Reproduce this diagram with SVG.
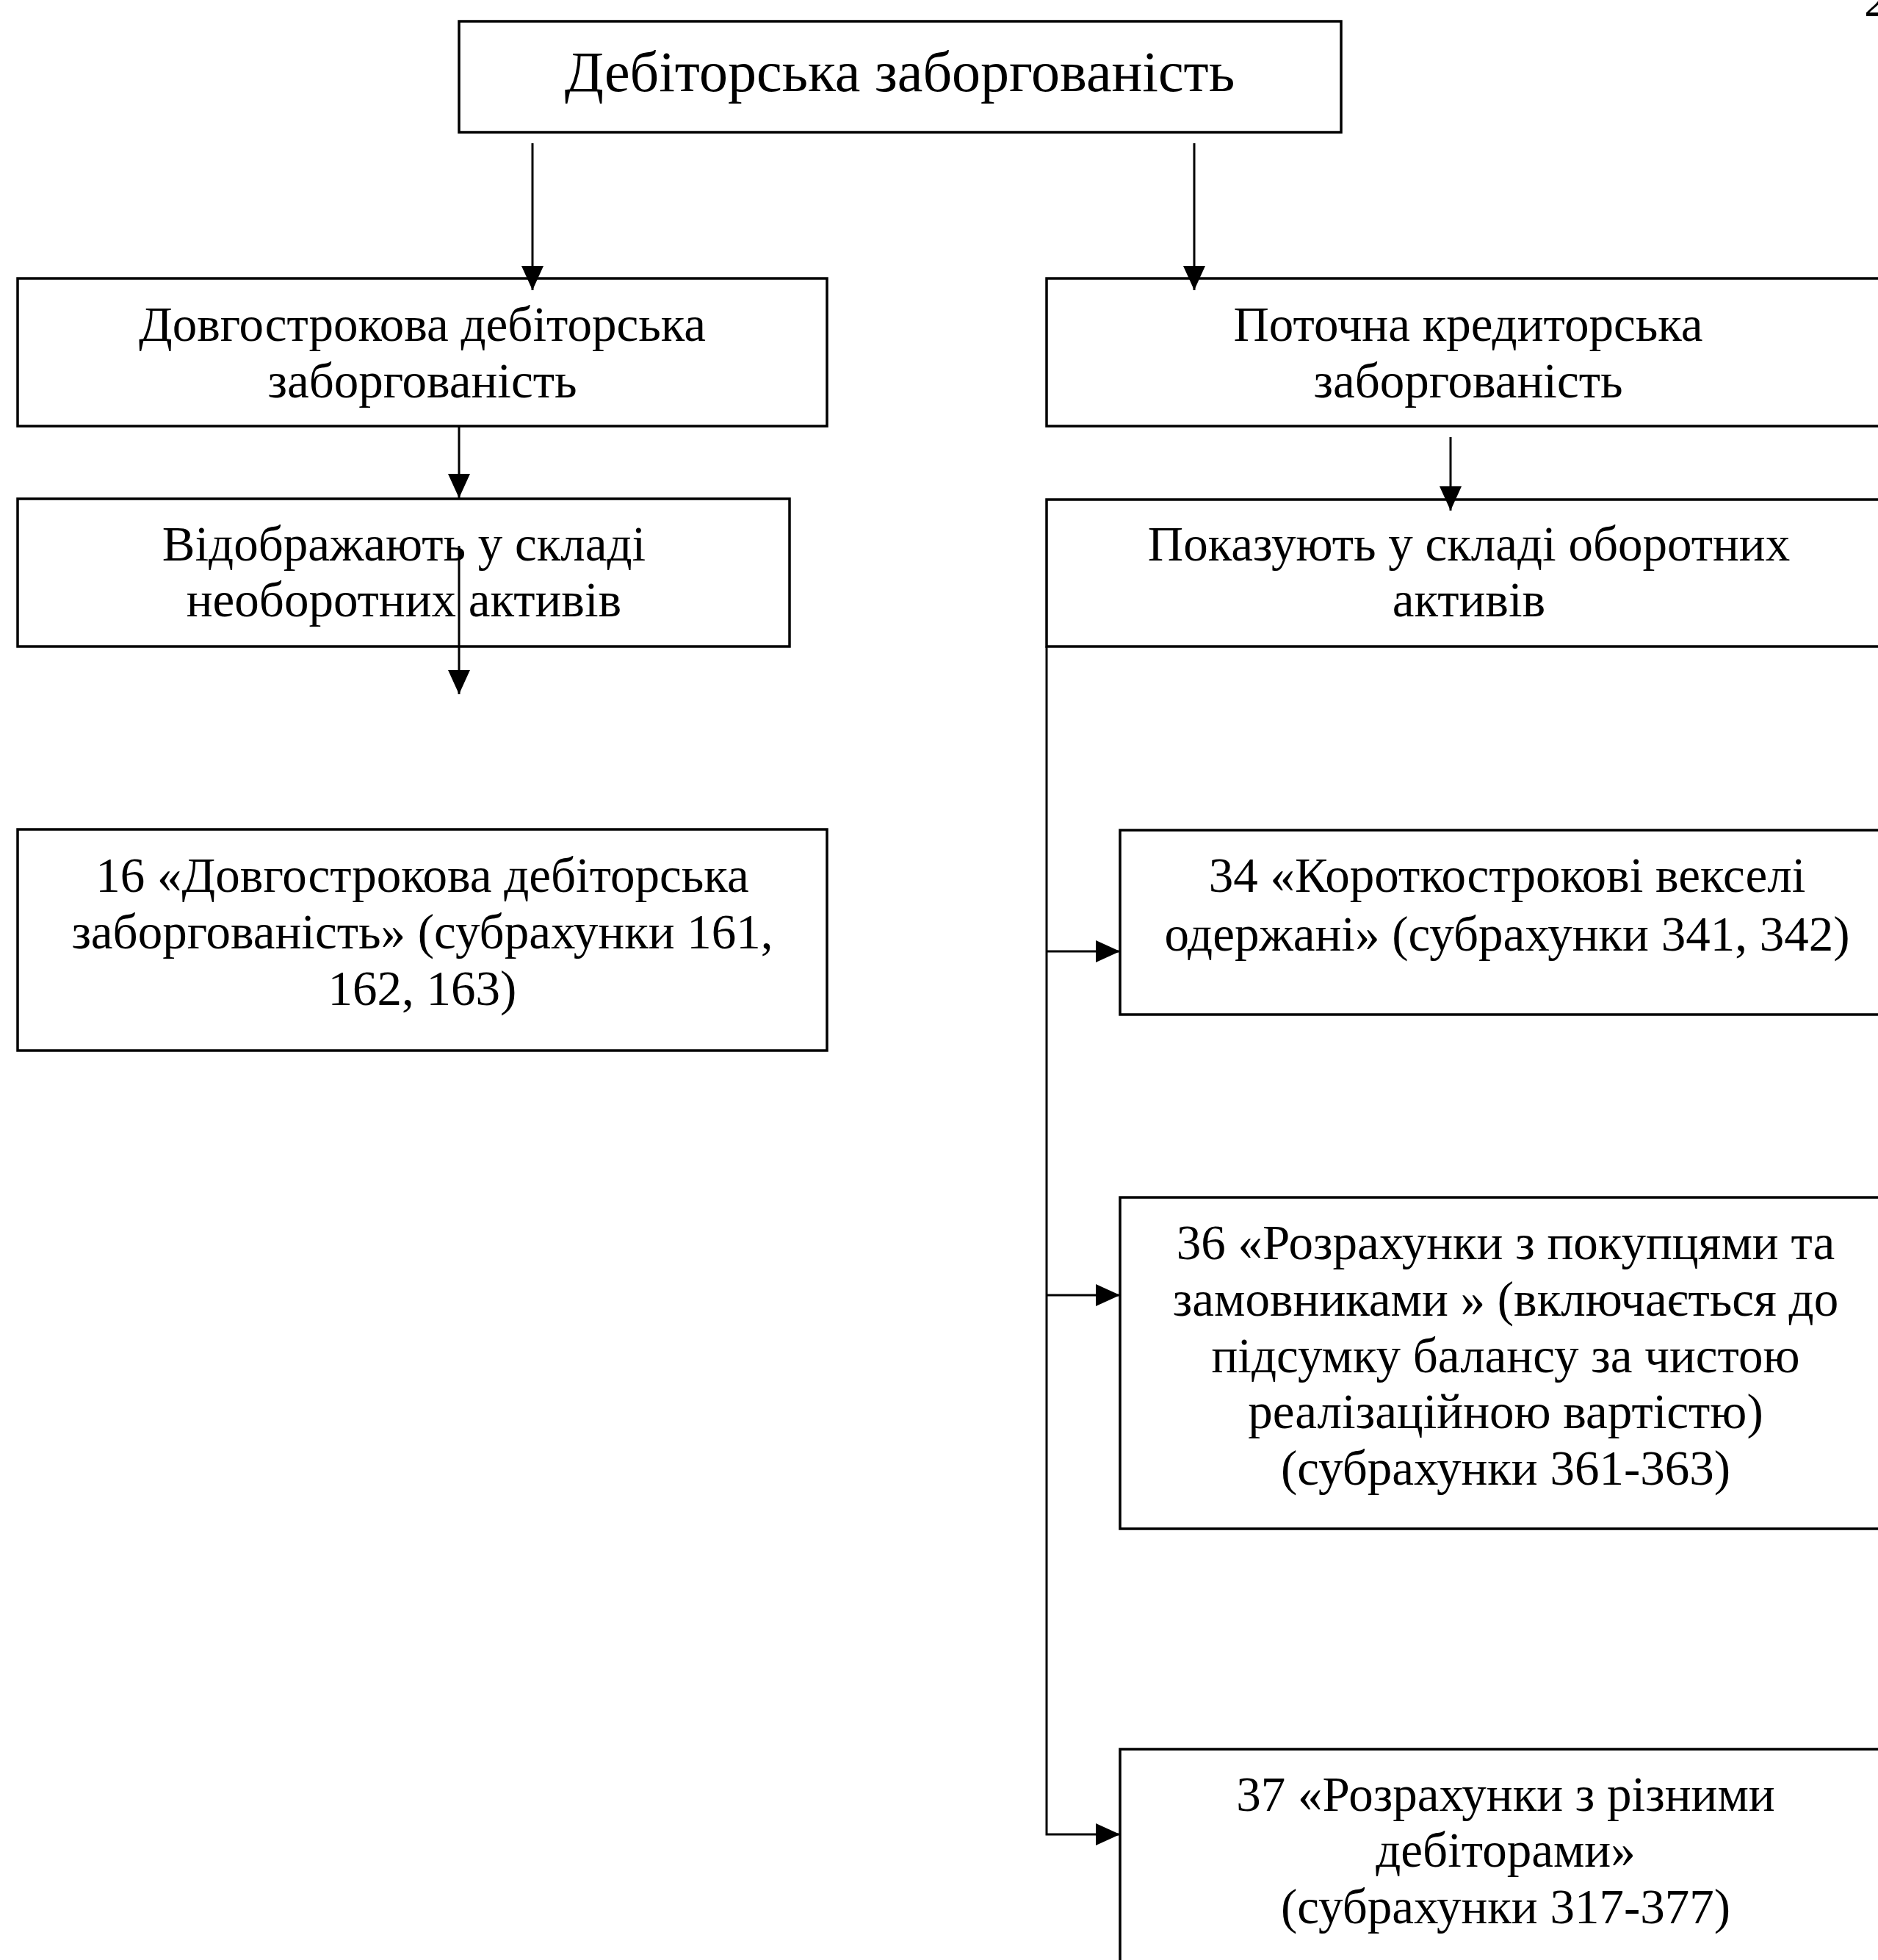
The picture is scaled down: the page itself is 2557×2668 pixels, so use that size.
<svg xmlns="http://www.w3.org/2000/svg" width="2557" height="2668" viewBox="0 0 2557 2668">
<style>
.box{fill:#fff;stroke:#000;stroke-width:3.5}
.t{font-family:"Liberation Serif","Times New Roman",serif;font-size:67px;fill:#000;text-anchor:middle}
.title{font-size:78px}
.c{fill:none;stroke:#000;stroke-width:3}
</style>
<defs>
<marker id="ah" markerUnits="userSpaceOnUse" markerWidth="33" markerHeight="30" refX="33" refY="15" orient="auto">
<path d="M0,0 L33,15 L0,30 z" fill="#000"/>
</marker>
</defs>
<rect width="2557" height="2668" fill="#fff"/>
<text class="t" x="2538" y="22" style="text-anchor:start">2</text>

<g id="n-root">
<rect class="box" x="625" y="29" width="1201" height="151"/>
<text class="t title" x="1225" y="124">Дебіторська заборгованість</text>
</g>
<g id="n-long">
<rect class="box" x="24" y="379" width="1102" height="201"/>
<text class="t" x="575" y="464">Довгострокова дебіторська</text>
<text class="t" x="575" y="541">заборгованість</text>
</g>
<g id="n-long-show">
<rect class="box" x="24" y="679" width="1051" height="201"/>
<text class="t" x="550" y="763">Відображають у складі</text>
<text class="t" x="550" y="839">необоротних активів</text>
</g>
<g id="n-16">
<rect class="box" x="24" y="1129" width="1102" height="301"/>
<text class="t" x="575" y="1214">16 «Довгострокова дебіторська</text>
<text class="t" x="575" y="1291">заборгованість» (субрахунки 161,</text>
<text class="t" x="575" y="1368">162, 163)</text>
</g>
<g id="n-current">
<rect class="box" x="1425" y="379" width="1200" height="201"/>
<text class="t" x="1999" y="464">Поточна кредиторська</text>
<text class="t" x="1999" y="541">заборгованість</text>
</g>
<g id="n-current-show">
<rect class="box" x="1425" y="680" width="1200" height="200"/>
<text class="t" x="2000" y="763">Показують у складі оборотних</text>
<text class="t" x="2000" y="839">активів</text>
</g>
<g id="n-34">
<rect class="box" x="1525" y="1130" width="1100" height="251"/>
<text class="t" x="2052" y="1214">34 «Короткострокові векселі</text>
<text class="t" x="2052" y="1294">одержані» (субрахунки 341, 342)</text>
</g>
<g id="n-36">
<rect class="box" x="1525" y="1630" width="1100" height="451"/>
<text class="t" x="2050" y="1714">36 «Розрахунки з покупцями та</text>
<text class="t" x="2050" y="1791">замовниками » (включається до</text>
<text class="t" x="2050" y="1868">підсумку балансу за чистою</text>
<text class="t" x="2050" y="1944">реалізаційною вартістю)</text>
<text class="t" x="2050" y="2021">(субрахунки 361-363)</text>
</g>
<g id="n-37">
<rect class="box" x="1525" y="2381" width="1100" height="400"/>
<text class="t" x="2050" y="2465">37 «Розрахунки з різними</text>
<text class="t" x="2050" y="2541">дебіторами»</text>
<text class="t" x="2050" y="2618">(субрахунки 317-377)</text>
</g>

<g id="connectors">
<line class="c" x1="725" y1="195" x2="725" y2="395" marker-end="url(#ah)"/>
<line class="c" x1="1626" y1="195" x2="1626" y2="395" marker-end="url(#ah)"/>
<line class="c" x1="625" y1="580" x2="625" y2="678" marker-end="url(#ah)"/>
<line class="c" x1="625" y1="743" x2="625" y2="945" marker-end="url(#ah)"/>
<line class="c" x1="1975" y1="595" x2="1975" y2="695" marker-end="url(#ah)"/>
<polyline class="c" points="1425,880 1425,2497 1525,2497" marker-end="url(#ah)"/>
<line class="c" x1="1425" y1="1295" x2="1525" y2="1295" marker-end="url(#ah)"/>
<line class="c" x1="1425" y1="1763" x2="1525" y2="1763" marker-end="url(#ah)"/>
</g>
</svg>
